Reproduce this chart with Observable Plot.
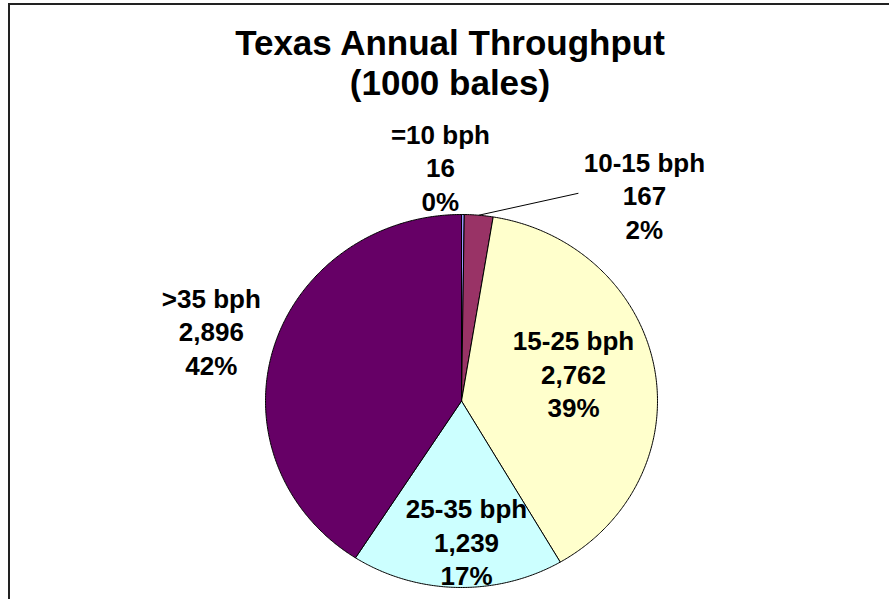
<!DOCTYPE html>
<html>
<head>
<meta charset="utf-8">
<script src="https://cdn.jsdelivr.net/npm/d3@7"></script>
<script src="https://cdn.jsdelivr.net/npm/@observablehq/plot@0.6"></script>
<style>
  html, body { margin: 0; padding: 0; overflow: hidden; background: #fff; width: 889px; height: 599px; }
  #frame { position: absolute; left: 8px; top: 3px; width: 920px; height: 700px; border: 2px solid #222; box-sizing: border-box; }
  #content { position: absolute; left: 0; top: 0; width: 889px; height: 599px; }
  #title { position: absolute; left: 9px; top: 0; width: 882px; height: 105px; box-sizing: border-box; padding-top: 23px;
           text-align: center; font: bold 35px/40px "Liberation Sans", Arial, sans-serif; color: #000; }
  #chart { position: absolute; left: 0; top: 105px; }
</style>
</head>
<body>
<div id="frame"></div>
<div id="content">
  <div id="title">Texas Annual Throughput<br>(1000 bales)</div>
  <div id="chart"></div>
</div>
<script>
// ---- data ----
const categories = ["=10 bph", "10-15 bph", "15-25 bph", "25-35 bph", ">35 bph"];
const values = [16, 167, 2762, 1239, 2896];
const percentLabels = ["0%", "2%", "39%", "17%", "42%"];
const colors = ["#9999FF", "#993366", "#FFFFCC", "#CCFFFF", "#660066"];

// ---- label layout (radius in pie radii, angle nudge in degrees from slice mid-angle) ----
const labelRadius = [1.262, 1.447, 0.591, 0.751, 1.331];
const labelNudge = [-5.3, 35.1, -4.3, -3.2, 0.1];
const leaderSlices = ["10-15 bph"];

// ---- build slices ----
const total = d3.sum(values);
const fmt = d3.format(",");
let acc = 0;
const slices = categories.map((c, i) => {
  const a0 = acc / total * 360;
  acc += values[i];
  const a1 = acc / total * 360;
  return {cat: c, value: values[i], pct: percentLabels[i], color: colors[i], a0, a1, mid: (a0 + a1) / 2, i};
});
const rad = d => d * Math.PI / 180;
function arcPoints(s) {
  const pts = [{x: 0, y: 0}];
  const n = Math.max(2, Math.ceil((s.a1 - s.a0) / 0.5));
  for (let k = 0; k <= n; k++) {
    const a = rad(s.a0 + (s.a1 - s.a0) * k / n);
    pts.push({x: Math.sin(a), y: Math.cos(a)});
  }
  pts.push({x: 0, y: 0});
  return pts;
}
const labels = slices.map(s => {
  const a = rad(s.mid + labelNudge[s.i]);
  const r = labelRadius[s.i];
  return {text: `${s.cat}\n${fmt(s.value)}\n${s.pct}`, x: r * Math.sin(a), y: r * Math.cos(a), cat: s.cat, mid: s.mid};
});
const leaders = labels.filter(l => leaderSlices.includes(l.cat)).map(l => ({
  x1: Math.sin(rad(l.mid)), y1: Math.cos(rad(l.mid)),
  x2: l.x - 66 / 196, y2: l.y + 0.008
}));

const marks = slices.map(s => Plot.line(arcPoints(s), {x: "x", y: "y", fill: s.color, stroke: "#000", strokeWidth: 1, curve: "linear"}));
marks.push(Plot.link(leaders, {x1: "x1", y1: "y1", x2: "x2", y2: "y2", stroke: "#000", strokeWidth: 1}));
marks.push(Plot.text(labels, {x: "x", y: "y", text: "text", fontSize: 26, fontWeight: "bold", lineHeight: 1.29, fill: "#000", textAnchor: "middle", lineAnchor: "middle"}));

const chart = Plot.plot({
  width: 889,
  height: 494,
  margin: 0,
  style: {fontFamily: "'Liberation Sans', Arial, sans-serif", background: "transparent", overflow: "visible"},
  x: {domain: [-1, 1], range: [265, 657], axis: null},
  y: {domain: [-1, 1], range: [482, 109], axis: null},
  marks
});
document.getElementById("chart").appendChild(chart);
</script>
</body>
</html>
